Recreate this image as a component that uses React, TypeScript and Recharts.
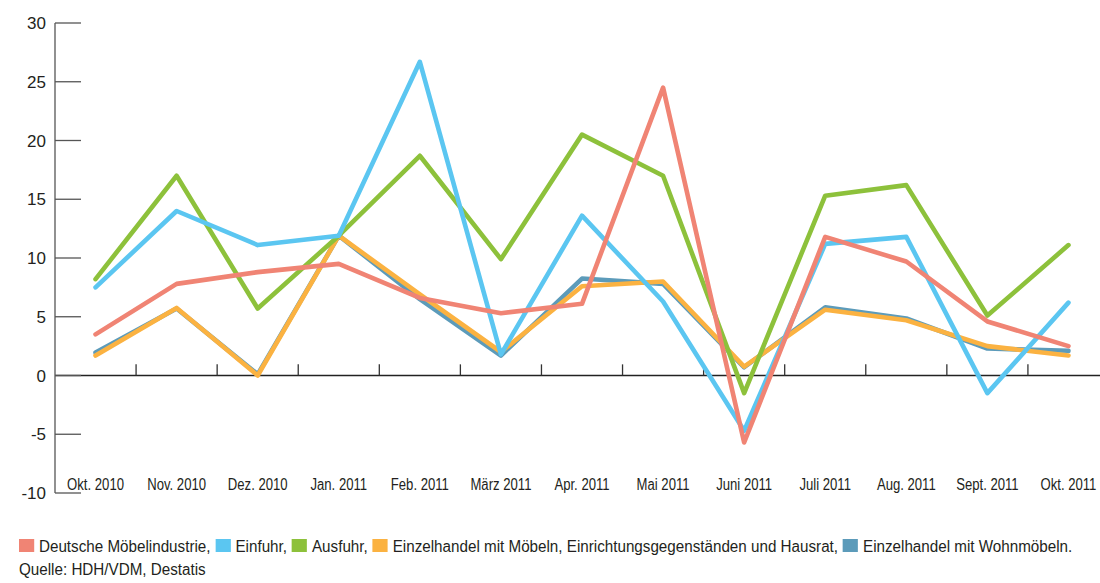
import { LineChart, Line, XAxis, YAxis, ReferenceLine } from "recharts";

// Veränderung gegenüber Vorjahresmonat in %
const MONTHS = [
  "Okt. 2010",
  "Nov. 2010",
  "Dez. 2010",
  "Jan. 2011",
  "Feb. 2011",
  "März 2011",
  "Apr. 2011",
  "Mai 2011",
  "Juni 2011",
  "Juli 2011",
  "Aug. 2011",
  "Sept. 2011",
  "Okt. 2011",
];

const MOEBELINDUSTRIE = [3.5, 7.8, 8.8, 9.5, 6.6, 5.3, 6.1, 24.5, -5.7, 11.8, 9.7, 4.6, 2.5];
const EINFUHR = [7.5, 14.0, 11.1, 11.9, 26.7, 1.8, 13.6, 6.3, -4.7, 11.2, 11.8, -1.5, 6.2];
const AUSFUHR = [8.2, 17.0, 5.7, 11.9, 18.7, 9.9, 20.5, 17.0, -1.5, 15.3, 16.2, 5.1, 11.1];
const HAUSRAT = [1.7, 5.75, 0, 11.9, 6.9, 2.0, 7.6, 8.0, 0.75, 5.6, 4.7, 2.5, 1.7];
const WOHNMOEBEL = [1.95, 5.7, 0.1, 11.9, 6.5, 1.7, 8.25, 7.8, 0.7, 5.8, 4.85, 2.3, 2.1];

const Y_TICKS = [-10, -5, 0, 5, 10, 15, 20, 25, 30];

// drawing order: first is at the bottom
const SERIES = [
  { key: "wohnmoebel", label: "Einzelhandel mit Wohnmöbeln.", color: "#5c9bba" },
  { key: "hausrat", label: "Einzelhandel mit Möbeln, Einrichtungsgegenständen und Hausrat,", color: "#fbb241" },
  { key: "ausfuhr", label: "Ausfuhr,", color: "#8dc13b" },
  { key: "einfuhr", label: "Einfuhr,", color: "#5bc6f1" },
  { key: "moebelindustrie", label: "Deutsche Möbelindustrie,", color: "#f08474" },
];

const LEGEND_ORDER = ["moebelindustrie", "einfuhr", "ausfuhr", "hausrat", "wohnmoebel"];

const data = MONTHS.map((month, i) => ({
  x: i + 0.5,
  month,
  moebelindustrie: MOEBELINDUSTRIE[i],
  einfuhr: EINFUHR[i],
  ausfuhr: AUSFUHR[i],
  hausrat: HAUSRAT[i],
  wohnmoebel: WOHNMOEBEL[i],
}));

// band boundaries between months, get a small tick on the zero line
const BOUNDARIES = MONTHS.slice(1).map((_, i) => i + 1);

const TEXT = "#231f20";
const FONT = "'Liberation Sans', Arial, sans-serif";
// no condensed face available, so squeeze the regular one
const X_SQUEEZE = 0.82;
const LEGEND_SQUEEZE = 0.95;

function YTick(props: any) {
  const { x, y, payload } = props;
  return (
    <g>
      <line x1={x} x2={x + 26} y1={y} y2={y} stroke="#555" strokeWidth={1.3} />
      <text
        x={x - 9}
        y={y + 6}
        textAnchor="end"
        fill={TEXT}
        fontSize={17}
        fontFamily={FONT}
      >
        {payload.value}
      </text>
    </g>
  );
}

function XTick(props: any) {
  const { x, y, payload } = props;
  return (
    <text
      transform={`translate(${x},${y - 3}) scale(${X_SQUEEZE},1)`}
      textAnchor="middle"
      fill={TEXT}
      fontSize={16}
      fontFamily={FONT}
    >
      {MONTHS[Math.floor(payload.value)]}
    </text>
  );
}

export default function App() {
  return (
    <div style={{ position: "absolute", left: 0, top: 0, width: 1110, height: 583, background: "#fff" }}>
      <LineChart
        width={1110}
        height={510}
        data={data}
        margin={{ top: 23, right: 1, left: 0, bottom: 0 }}
      >
        <XAxis
          dataKey="x"
          type="number"
          domain={[0, 13]}
          ticks={data.map((d) => d.x)}
          interval={0}
          axisLine={false}
          tickLine={false}
          tickSize={0}
          tickMargin={0}
          height={17}
          tick={<XTick />}
        />
        <YAxis
          domain={[-10, 30]}
          ticks={Y_TICKS}
          interval={0}
          width={55}
          axisLine={{ stroke: "#555", strokeWidth: 1.3 }}
          tickLine={false}
          tickSize={0}
          tickMargin={0}
          tick={<YTick />}
        />
        <ReferenceLine y={0} stroke="#222" strokeWidth={1.4} />
        {BOUNDARIES.map((b) => (
          <ReferenceLine
            key={b}
            segment={[
              { x: b, y: 0 },
              { x: b, y: 0.95 },
            ]}
            stroke="#333"
            strokeWidth={1.3}
          />
        ))}
        {SERIES.map((s) => (
          <Line
            key={s.key}
            type="linear"
            dataKey={s.key}
            stroke={s.color}
            strokeWidth={4.6}
            strokeLinejoin="round"
            strokeLinecap="round"
            dot={false}
            activeDot={false}
            isAnimationActive={false}
          />
        ))}
      </LineChart>
      <div
        style={{
          position: "absolute",
          left: 19,
          top: 535,
          fontFamily: FONT,
          fontSize: 16,
          lineHeight: "23px",
          color: TEXT,
          whiteSpace: "nowrap",
          transform: `scaleX(${LEGEND_SQUEEZE})`,
          transformOrigin: "0 0",
        }}
      >
        <div>
          {LEGEND_ORDER.map((k) => {
            const s = SERIES.find((x) => x.key === k)!;
            return (
              <span key={k} style={{ marginRight: 5 / LEGEND_SQUEEZE }}>
                <span
                  style={{
                    display: "inline-block",
                    width: 15 / LEGEND_SQUEEZE,
                    height: 13,
                    background: s.color,
                    marginRight: 5 / LEGEND_SQUEEZE,
                    verticalAlign: "baseline",
                  }}
                />
                {s.label}
              </span>
            );
          })}
        </div>
        <div>Quelle: HDH/VDM, Destatis</div>
      </div>
    </div>
  );
}
